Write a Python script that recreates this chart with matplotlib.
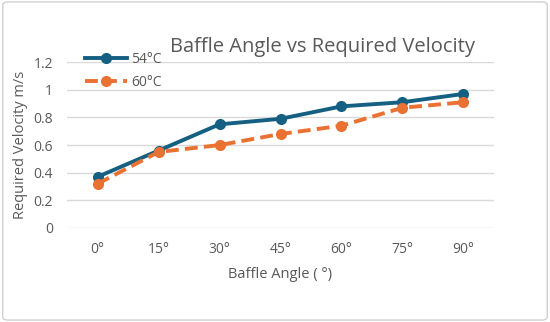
import matplotlib.pyplot as plt
from matplotlib.patches import FancyBboxPatch

angles = ["0°", "15°", "30°", "45°", "60°", "75°", "90°"]
vel_54 = [0.37, 0.56, 0.75, 0.79, 0.88, 0.91, 0.97]
vel_60 = [0.32, 0.55, 0.60, 0.68, 0.74, 0.87, 0.91]

plt.rcParams['font.family'] = ['Open Sans', 'DejaVu Sans']
grey = '#595959'

fig = plt.figure(figsize=(5.5, 3.22), dpi=100)
ax = fig.add_axes([0.122, 0.292, 0.776, 0.515])

x = list(range(len(angles)))
ax.plot(x, vel_54, color='#156082', lw=2.8, marker='o', ms=7, label='54°C', zorder=3)
ax.plot(x, vel_60, color='#E97132', lw=2.8, ls=(0, (3.3, 1.6)), marker='o', ms=7, label='60°C', zorder=3)

ax.set_xlim(-0.5, len(angles) - 0.5)
ax.set_ylim(0, 1.2)
ax.set_xticks(x)
ax.set_xticklabels(angles)
ax.set_yticks([0, 0.2, 0.4, 0.6, 0.8, 1.0, 1.2])
ax.set_yticklabels(['0', '0.2', '0.4', '0.6', '0.8', '1', '1.2'])
ax.grid(axis='y', color='#d9d9d9', lw=1)
ax.set_axisbelow(True)
for s in ax.spines.values():
    s.set_visible(False)
ax.tick_params(length=0, colors=grey, labelsize=10, pad=10)

ax.set_xlabel('Baffle Angle ( °)', color=grey, fontsize=10.5, labelpad=7)
ax.set_ylabel('Required Velocity m/s', color=grey, fontsize=10.5, labelpad=4)
fig.text(0.587, 0.855, 'Baffle Angle vs Required Velocity', ha='center', va='center',
         color=grey, fontsize=14.5)

ax.legend(loc='upper left', bbox_to_anchor=(0.03, 1.095), frameon=False, fontsize=10,
          labelcolor=grey, handlelength=3.0, handletextpad=0.3, borderaxespad=0, labelspacing=0.6)

border = FancyBboxPatch((0.005, 0.006), 0.99, 0.988, boxstyle='round,pad=0,rounding_size=0.01',
                        transform=fig.transFigure, fill=False, ec='#d0d0d0', lw=1)
fig.patches.append(border)

fig.savefig('out.png', dpi=100)
